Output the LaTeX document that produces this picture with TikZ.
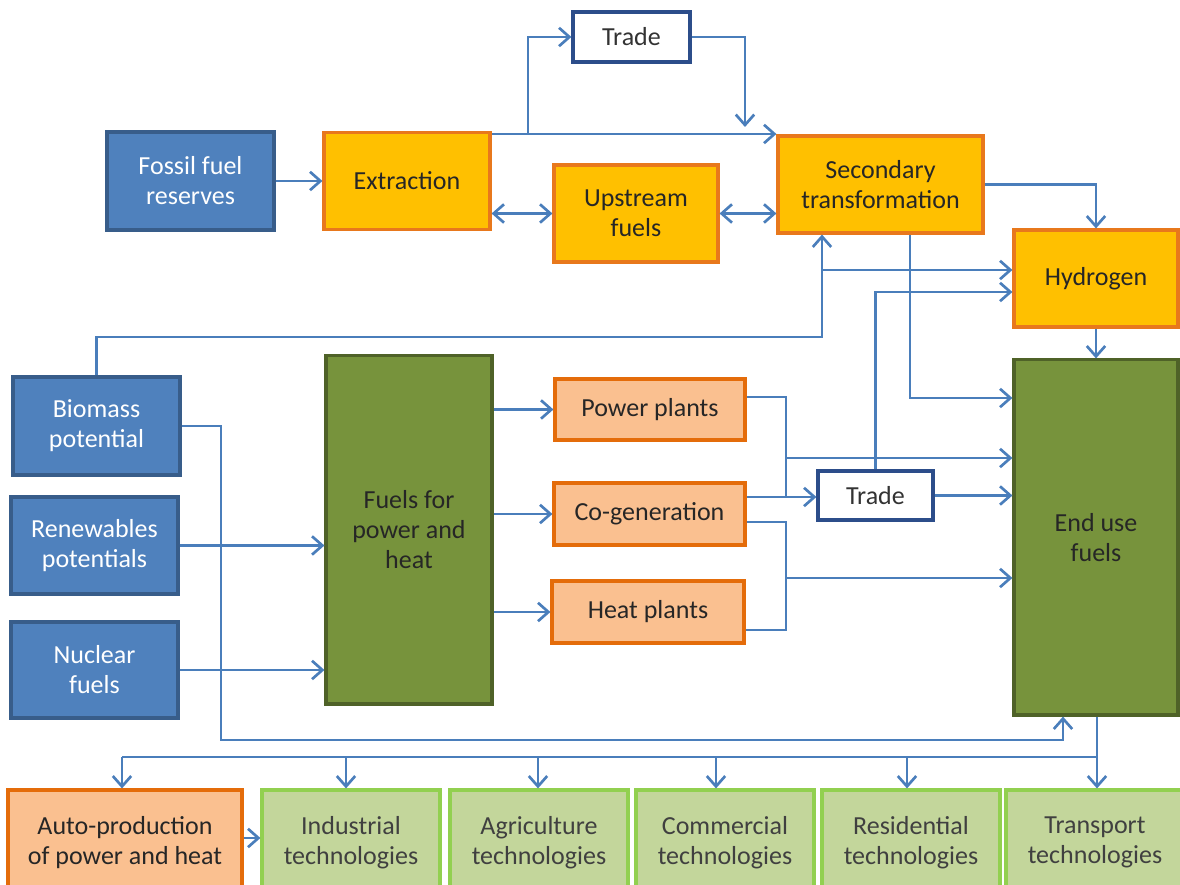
\documentclass[tikz,border=0pt]{standalone}
\usepackage{fontspec}
\setmainfont{Carlito}
\usepackage{tikz}
\usetikzlibrary{arrows.meta}
\definecolor{potblue}{HTML}{4F81BD}
\definecolor{potblueline}{HTML}{385D8A}
\definecolor{tradeline}{HTML}{2C4D8A}
\definecolor{fuelorange}{HTML}{FFC000}
\definecolor{fuelorangeline}{HTML}{E8781C}
\definecolor{plantpeach}{HTML}{FAC090}
\definecolor{plantpeachline}{HTML}{E46C0A}
\definecolor{fuelgreen}{HTML}{77933C}
\definecolor{fuelgreenline}{HTML}{4F6228}
\definecolor{techgreen}{HTML}{C3D69B}
\definecolor{techgreenline}{HTML}{92D050}
\definecolor{flowblue}{HTML}{4A7EBB}

\begin{document}
\begin{tikzpicture}[x=0.025cm,y=-0.025cm,
		box/.style={draw,line width=2.2pt,inner sep=0pt,align=center,font=\fontsize{18.5}{21.3}\selectfont},
		potbox/.style={box,fill=potblue,draw=potblueline,text=white},
		tradebox/.style={box,fill=white,draw=tradeline,text=black!80},
		orangebox/.style={box,fill=fuelorange,draw=fuelorangeline,text=black!85},
		peachbox/.style={box,fill=plantpeach,draw=plantpeachline,text=black!85},
		greenbox/.style={box,fill=fuelgreen,draw=fuelgreenline,text=black!85},
		techbox/.style={box,fill=techgreen,draw=techgreenline,text=black!75,minimum width=4.45cm,minimum height=2.625cm},
		flow/.style={flowblue,line width=1.9pt},
		arr/.style={flow,-{Straight Barb[length=2.6mm,width=4.6mm]}},
		darr/.style={flow,{Straight Barb[length=2.6mm,width=4.6mm]}-{Straight Barb[length=2.6mm,width=4.6mm]}}]
		\clip (0,0) rectangle (1180,885);
		\fill[white] (0,0) rectangle (1180,885);
		\node[potbox,minimum width=4.175cm,minimum height=2.45cm] (fossil) at (190.5,181) {Fossil fuel\\reserves};
		\node[orangebox,minimum width=4.15cm,minimum height=2.425cm] (extract) at (407,181) {Extraction};
		\node[orangebox,minimum width=4.1cm,minimum height=2.425cm] (upstream) at (636,213.5) {Upstream\\fuels};
		\node[orangebox,minimum width=5.125cm,minimum height=2.425cm] (second) at (880.5,184.5) {Secondary\\transformation};
		\node[orangebox,minimum width=4.1cm,minimum height=2.425cm] (hydrogen) at (1096,278.5) {Hydrogen};
		\node[tradebox,minimum width=2.925cm,minimum height=1.25cm] (tradetop) at (631.5,37) {Trade};
		\node[potbox,minimum width=4.175cm,minimum height=2.45cm] (biomass) at (96.5,426) {Biomass\\potential};
		\node[potbox,minimum width=4.175cm,minimum height=2.425cm] (renew) at (94.5,545.5) {Renewables\\potentials};
		\node[potbox,minimum width=4.175cm,minimum height=2.4cm] (nuclear) at (94.5,670) {Nuclear\\fuels};
		\node[greenbox,minimum width=4.15cm,minimum height=8.7cm] (powerfuels) at (409,530) {Fuels for\\power and\\heat};
		\node[peachbox,minimum width=4.75cm,minimum height=1.525cm] (power) at (650,409.5) {Power plants};
		\node[peachbox,minimum width=4.775cm,minimum height=1.55cm] (cogen) at (649.5,514) {Co-generation};
		\node[peachbox,minimum width=4.8cm,minimum height=1.55cm] (heat) at (648,612) {Heat plants};
		\node[tradebox,minimum width=2.875cm,minimum height=1.225cm] (trademid) at (875.5,495.5) {Trade};
		\node[greenbox,minimum width=4.1cm,minimum height=8.875cm] (enduse) at (1096,537.5) {End use\\fuels};
		\node[peachbox,minimum width=5.85cm,minimum height=2.625cm] (auto) at (125,842.5) {Auto-production\\of power and heat};
		\node[techbox] (industry) at (351,842.5) {Industrial\\technologies};
		\node[techbox] (agri) at (539,842.5) {Agriculture\\technologies};
		\node[techbox] (commerce) at (725,842.5) {Commercial\\technologies};
		\node[techbox] (resid) at (911,842.5) {Residential\\technologies};
		\node[techbox] (transport) at (1095,842.5) {Transport\\technologies};
		\coordinate (tradefork) at (528,134);
		\coordinate (tradedrop) at (745,127);
		\coordinate (bioup) at (822,337);
		\coordinate (biofork) at (822,270);
		\coordinate (plantfork) at (786,458);
		\coordinate (plantjoin) at (786,497);
		\coordinate (heatfork) at (786,578);
		\coordinate (heatjoin) at (786,630);
		\coordinate (biolow) at (221,740);
		\coordinate (biohook) at (1063,740);
		\coordinate (bus) at (1097,757);
		\coordinate (busend) at (122,757);
		\draw[arr] (fossil.east) -- (extract.west);
		\draw[arr] (extract.east |- tradefork) -- (second.west |- tradefork);
		\draw[arr] (tradefork) |- (tradetop.west);
		\draw[arr] (tradetop.east) -| (tradedrop);
		\draw[darr] (extract.east |- upstream.west) -- (upstream.west);
		\draw[darr] (upstream.east) -- (second.west |- upstream.east);
		\draw[arr] (second.east) -| (hydrogen.north);
		\draw[arr] (hydrogen.south) -- (enduse.north);
		\draw[arr] (biomass.north) |- (bioup) -- (second.south -| bioup);
		\draw[arr] (biofork) -- (hydrogen.west |- biofork);
		\draw[arr] (trademid.north) |- (hydrogen.west |- 0,292);
		\draw[arr] (second.south -| 910,0) |- (enduse.west |- 0,398);
		\draw[arr] (powerfuels.east |- power.west) -- (power.west);
		\draw[arr] (powerfuels.east |- cogen.west) -- (cogen.west);
		\draw[arr] (powerfuels.east |- heat.west) -- (heat.west);
		\draw[arr] (renew.east) -- (powerfuels.west |- renew.east);
		\draw[arr] (nuclear.east) -- (powerfuels.west |- nuclear.east);
		\draw[arr] (power.east |- 0,397) -| (plantjoin) -- (trademid.west |- plantjoin);
		\draw[flow] (cogen.east |- plantjoin) -- (plantjoin);
		\draw[arr] (plantfork) -- (enduse.west |- plantfork);
		\draw[arr] (trademid.east) -- (enduse.west |- trademid.east);
		\draw[flow] (cogen.east |- 0,522) -| (heatjoin) -- (heat.east |- heatjoin);
		\draw[arr] (heatfork) -- (enduse.west |- heatfork);
		\draw[arr] (biomass.east) -| (biolow) -- (biohook) -- (enduse.south -| biohook);
		\draw[flow] (enduse.south -| bus) -- (bus) -- (busend);
		\draw[arr] (bus) -- (transport.north -| bus);
		\foreach \tech/\xpos in {auto/122,industry/346,agri/538,commerce/716,resid/907}
			\draw[arr] (\xpos,757) -- (\tech.north -| \xpos,0);
		\draw[arr] (auto.east |- 0,838) -- (industry.west |- 0,838);
\end{tikzpicture}
\end{document}
